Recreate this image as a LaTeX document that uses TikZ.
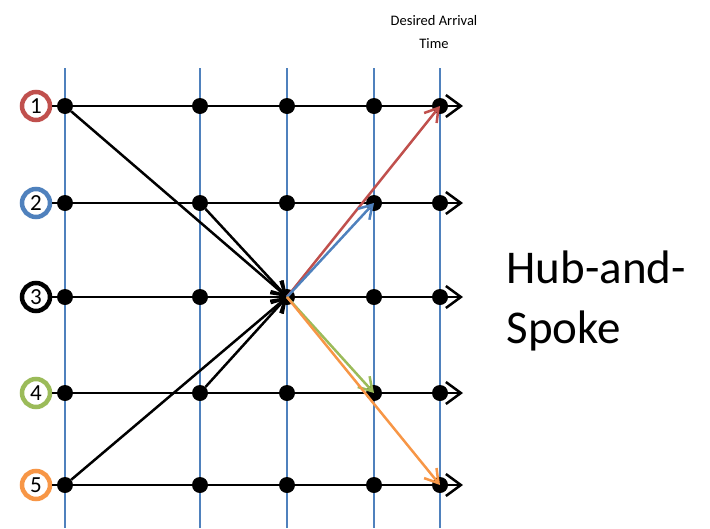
\documentclass[tikz,border=0pt]{standalone}
\usepackage{fontspec}
\setmainfont{Carlito}
\usetikzlibrary{arrows.meta}
\definecolor{gridblue}{HTML}{4F81BD}
\definecolor{cred}{HTML}{C0504D}
\definecolor{cblue}{HTML}{4F81BD}
\definecolor{cgreen}{HTML}{9BBB59}
\definecolor{corange}{HTML}{F79646}
\begin{document}
\begin{tikzpicture}[x=1pt,y=-1pt,
  timeline/.style={gridblue,line width=1.8pt},
  track/.style={black,line width=2.5pt,-{Straight Barb[length=15pt,width=22pt,line width=2.5pt]}},
  dot/.style={circle,fill=black,inner sep=0pt,minimum size=16pt},
  origin/.style={circle,draw=#1,line width=4.5pt,minimum size=28pt,inner sep=0pt,font=\fontsize{23}{23}\selectfont},
  feed/.style={black,line width=2.5pt,-{Straight Barb[length=13pt,width=16pt,line width=2.5pt]}},
  spoke/.style={#1,line width=2.5pt,-{Straight Barb[length=13pt,width=16pt,line width=2.5pt]}}]
\useasboundingbox (0,0) rectangle (710,528);

% vertical time lines
\foreach \x/\n in {65/a,200/b,287/c,374/d,440/e}{
  \draw[timeline] (\x,68) -- (\x,528);
}

% origins, stations and tracks
\foreach \r/\y/\c in {1/106/cred,2/203/cblue,3/297/black,4/393/cgreen,5/485/corange}{
  \node[origin=\c] (o\r) at (36,\y) {\r};
  \coordinate (t\r) at (463,\y);
  \foreach \x/\n in {65/a,200/b,287/c,374/d,440/e}{
    \node[dot] (\n\r) at (\x,\y) {};
  }
  \draw[track] (o\r.east) -- (t\r);
}

% flows into the hub
\draw[feed] (a1) -- (c3.center);
\draw[feed] (b2) -- (c3.center);
\draw[feed] (b4) -- (c3.center);
\draw[feed] (a5) -- (c3.center);

% flows out of the hub
\draw[spoke=cred] (c3.center) -- (e1.center);
\draw[spoke=cblue] (c3.center) -- (d2.center);
\draw[spoke=cgreen] (c3.center) -- (d4.center);
\draw[spoke=corange] (c3.center) -- (e5.center);

% labels
\node[align=center,font=\fontsize{14.5}{23}\selectfont] (dat) at (434,32) {Desired Arrival\\Time};
\node[align=left,anchor=west,font=\fontsize{47}{60}\selectfont] (hs) at (503,301) {Hub-and-\\Spoke};
\end{tikzpicture}
\end{document}
